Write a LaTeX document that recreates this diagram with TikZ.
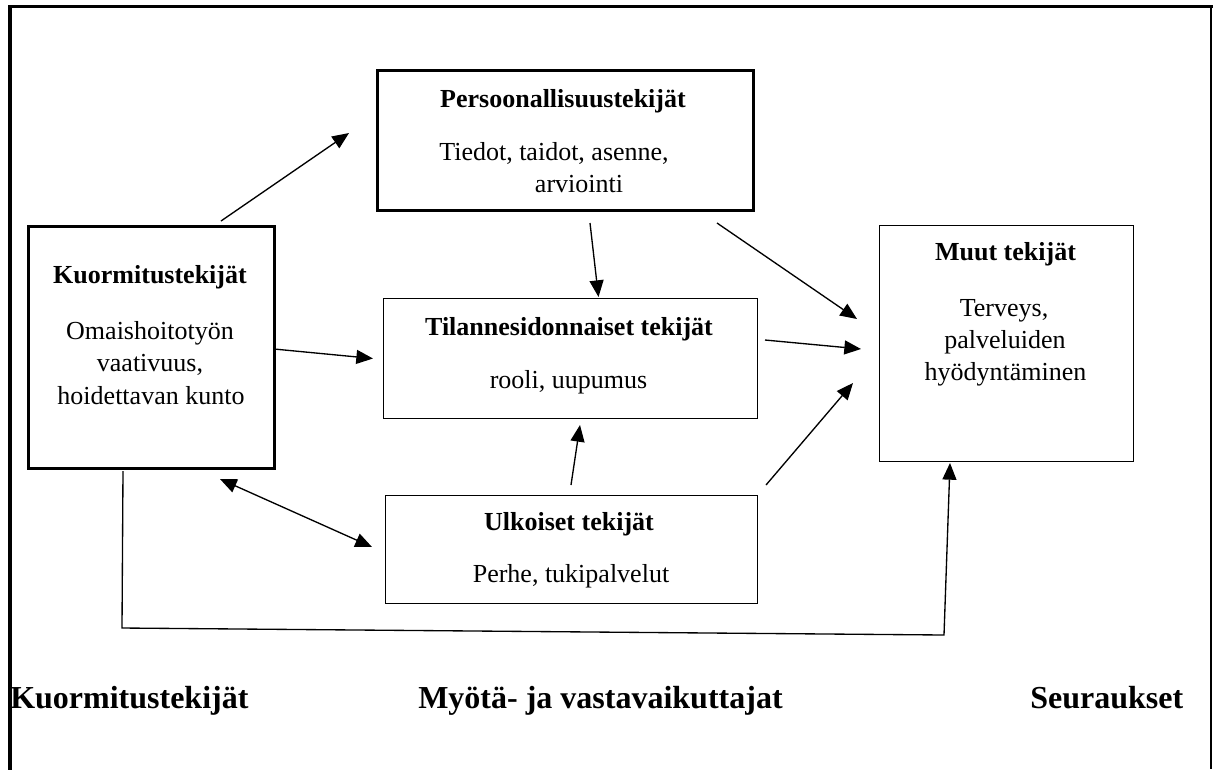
\documentclass[tikz,border=0pt]{standalone}
\usepackage{fontspec}
\setmainfont{Liberation Serif}
\usetikzlibrary{arrows.meta}
\begin{document}
\begin{tikzpicture}[x=0.75pt,y=-0.75pt,
  box/.style={draw, line width=1.1pt, inner sep=0pt, anchor=north west},
  thickbox/.style={box, line width=2pt},
  ttl/.style={font=\fontsize{19.5}{23}\selectfont\bfseries, anchor=base, inner sep=0pt},
  txt/.style={font=\fontsize{19.5}{23}\selectfont, anchor=base, inner sep=0pt},
  lbl/.style={font=\fontsize{24}{28}\selectfont\bfseries, anchor=base west, inner sep=0pt},
  arr/.style={line width=1pt, -{Triangle[length=12.5pt,width=10.5pt]}},
  darr/.style={line width=1pt, {Triangle[length=12.5pt,width=10.5pt]}-{Triangle[length=12.5pt,width=10.5pt]}},
  frame/.style={line cap=rect},
]
\useasboundingbox (0,0) rectangle (1213,769);

% outer frame (top, left, right; no bottom)
\draw[frame, line width=3pt] (9.5,769) -- (9.5,6.5);
\draw[frame, line width=2.3pt] (9.5,6.5) -- (1211,6.5);
\draw[line width=1.1pt] (1211,6.5) -- (1211,769);

% boxes
\node[thickbox, minimum width=282pt, minimum height=105pt] (pers) at (376,69) {};
\node[thickbox, minimum width=184.5pt, minimum height=181.5pt] (kuorm) at (27,225) {};
\node[box, minimum width=280.5pt, minimum height=90pt] (tilanne) at (383,298) {};
\node[box, minimum width=190.5pt, minimum height=177pt] (muut) at (879,225) {};
\node[box, minimum width=279pt, minimum height=81pt] (ulk) at (385,495) {};

% texts
\node[ttl] (persT) at (563,107) {Persoonallisuustekijät};
\node[txt] (persA) at (554,160) {Tiedot, taidot, asenne,};
\node[txt] (persB) at (579,192) {arviointi};

\node[ttl] (kuormT) at (150,283) {Kuormitustekijät};
\node[txt] (kuormA) at (150,339) {Omaishoitotyön};
\node[txt] (kuormB) at (150,371.5) {vaativuus,};
\node[txt] (kuormC) at (151,404) {hoidettavan kunto};

\node[ttl] (tilT) at (569,335) {Tilannesidonnaiset tekijät};
\node[txt] (tilA) at (568.5,388) {rooli, uupumus};

\node[ttl] (muutT) at (1005.5,260) {Muut tekijät};
\node[txt] (muutA) at (1004,316) {Terveys,};
\node[txt] (muutB) at (1005,348) {palveluiden};
\node[txt] (muutC) at (1005.5,380) {hyödyntäminen};

\node[ttl] (ulkT) at (569,530) {Ulkoiset tekijät};
\node[txt] (ulkA) at (571,582) {Perhe, tukipalvelut};

% bottom labels
\node[lbl] (l1) at (10,708) {Kuormitustekijät};
\node[lbl] (l2) at (418,708) {Myötä- ja vastavaikuttajat};
\node[lbl] (l3) at (1030,708) {Seuraukset};

% connector end points
\coordinate (k1) at (221,221);  \coordinate (p1) at (349,133);
\coordinate (k2) at (274,349);  \coordinate (t1) at (373,358.5);
\coordinate (p2) at (590,223);  \coordinate (t2) at (598.5,297);
\coordinate (p3) at (717,223);  \coordinate (m1) at (857,319);
\coordinate (t3) at (765,340);  \coordinate (m2) at (861,349);
\coordinate (u1) at (766,485);  \coordinate (m3) at (853,383);
\coordinate (u2) at (571,485);  \coordinate (t4) at (580,425);
\coordinate (k3) at (220,479);  \coordinate (u3) at (372,547);
\coordinate (k4) at (123,471);  \coordinate (c1) at (122,628);
\coordinate (c2) at (944,635);  \coordinate (m4) at (950,463);

% connectors
\draw[arr] (k1) -- (p1);
\draw[arr] (k2) -- (t1);
\draw[arr] (p2) -- (t2);
\draw[arr] (p3) -- (m1);
\draw[arr] (t3) -- (m2);
\draw[arr] (u1) -- (m3);
\draw[arr] (u2) -- (t4);
\draw[darr] (k3) -- (u3);
\draw[arr] (k4) -- (c1) -- (c2) -- (m4);
\end{tikzpicture}
\end{document}
